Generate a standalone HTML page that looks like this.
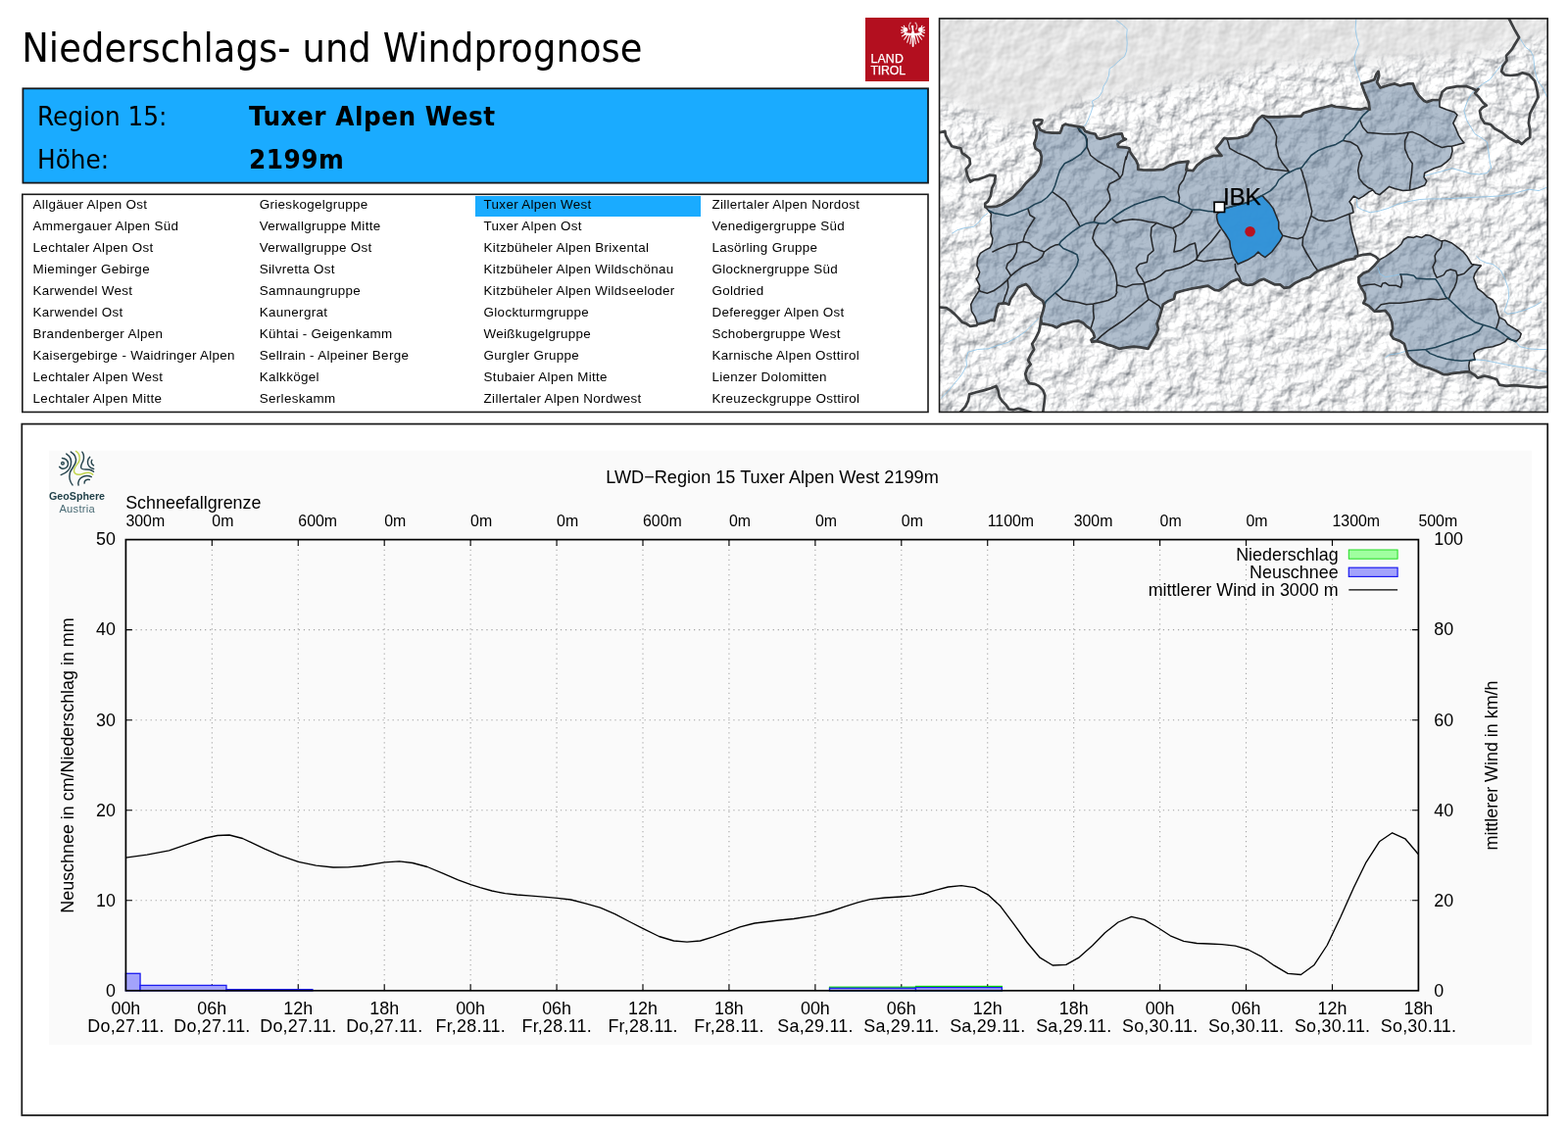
<!DOCTYPE html>
<html lang="de">
<head>
<meta charset="utf-8">
<title>Niederschlags- und Windprognose – Region 15 Tuxer Alpen West</title>
<style>
html,body{margin:0;padding:0;background:#fff;}
body{width:1600px;height:1153px;position:relative;overflow:hidden;font-family:"Liberation Sans","DejaVu Sans",sans-serif;color:#000;}
.abs{position:absolute;white-space:nowrap;}
#title{left:22.2px;top:24.6px;font-family:"DejaVu Sans Condensed","Liberation Sans",sans-serif;font-size:41px;line-height:48px;letter-spacing:0.07px;}
#logo{left:883px;top:18px;width:65px;height:64.7px;background:#b30f1f;}
#logo .t{position:absolute;left:5.4px;color:#fff;font-size:12.3px;line-height:12px;letter-spacing:0.2px;-webkit-text-stroke:0.25px #fff;}
.rl{font-family:"DejaVu Sans Condensed","Liberation Sans",sans-serif;font-size:26.7px;line-height:32px;transform:scaleX(1.032);transform-origin:0 0;}
.rb{font-weight:bold;letter-spacing:0.5px;}
#hl{left:485px;top:200px;width:230px;height:21px;background:#1aabff;}
.li{font-size:13.4px;letter-spacing:0.32px;line-height:22px;height:22px;}
svg{position:absolute;left:0;top:0;}
svg text{font-family:"Liberation Sans","DejaVu Sans",sans-serif;}
</style>
</head>
<body>
<div id="title" class="abs">Niederschlags- und Windprognose</div>
<div id="logo" class="abs"><div class="t" style="top:35.7px">LAND</div><div class="t" style="top:47.6px;letter-spacing:-0.15px">TIROL</div><svg width="65" height="65" viewBox="0 0 65 65" style="left:0;top:0"><g transform="translate(48.6 16.5) scale(1 1.07)" fill="#fff" stroke="#fff" stroke-linecap="round">
<ellipse cx="0" cy="0.8" rx="1.8" ry="3.3" stroke="none"/>
<path d="M-8 -0.2Q0 1.6 8 -0.2" fill="none" stroke-width="2.3"/>
<circle cx="-7.5" cy="-3.8" r="2.2" stroke="none"/><circle cx="7.5" cy="-3.8" r="2.2" stroke="none"/>
<path d="M-7.5-4l-1.8-3.6M-7.5-4l-4-2.4M-7.5-3.6l-4.5 0.2M-7.5-2.5l-4.3 1.6M-7 0l-4.2 2.3M-5.5 0.8l-3.4 4.6M-3.6 1.4l-2.3 6.8M-1.6 2.4l-1.2 7.2M7.5-4l1.8-3.6M7.5-4l4-2.4M7.5-3.6l4.5 0.2M7.5-2.5l4.3 1.6M7 0l4.2 2.3M5.5 0.8l3.4 4.6M3.6 1.4l2.3 6.8M1.6 2.4l1.2 7.2" fill="none" stroke-width="1.05"/>
<path d="M0 3v8.6" fill="none" stroke-width="1.8"/>
<path d="M0-2L-0.4-6" fill="none" stroke-width="1.7"/>
<circle cx="-0.5" cy="-7" r="1.25" stroke="none"/>
<path d="M-3.2-4.4Q-5.4-8.6-1.6-11.2M3.2-4.4Q5.4-8.6 1.6-11.2" fill="none" stroke-width="1.3" stroke-dasharray="1.4 1.2" opacity="0.7"/>
</g></svg>
</div>
<svg width="1600" height="1153" viewBox="0 0 1600 1153"><rect x="23.4" y="90.3" width="923.6" height="96.3" fill="#1aabff" stroke="#15181c" stroke-width="1.8"/><rect x="22.8" y="198.3" width="924.2" height="222.15" fill="#fff" stroke="#1a1a1a" stroke-width="1.6"/><rect x="22.3" y="432.6" width="1556.9" height="705.4" fill="#fff" stroke="#1a1a1a" stroke-width="1.75"/></svg>
<div class="abs rl" style="left:37.5px;top:103.3px">Region 15:</div>
<div class="abs rl rb" style="left:253.5px;top:103.3px">Tuxer Alpen West</div>
<div class="abs rl" style="left:37.5px;top:146.5px">Höhe:</div>
<div class="abs rl rb" style="left:253.5px;top:146.5px">2199m</div>
<div id="hl" class="abs"></div>
<div class="abs li" style="left:33.6px;top:197.8px">Allgäuer Alpen Ost</div>
<div class="abs li" style="left:33.6px;top:219.8px">Ammergauer Alpen Süd</div>
<div class="abs li" style="left:33.6px;top:241.8px">Lechtaler Alpen Ost</div>
<div class="abs li" style="left:33.6px;top:263.8px">Mieminger Gebirge</div>
<div class="abs li" style="left:33.6px;top:285.8px">Karwendel West</div>
<div class="abs li" style="left:33.6px;top:307.8px">Karwendel Ost</div>
<div class="abs li" style="left:33.6px;top:329.8px">Brandenberger Alpen</div>
<div class="abs li" style="left:33.6px;top:351.8px">Kaisergebirge - Waidringer Alpen</div>
<div class="abs li" style="left:33.6px;top:373.8px">Lechtaler Alpen West</div>
<div class="abs li" style="left:33.6px;top:395.8px">Lechtaler Alpen Mitte</div>
<div class="abs li" style="left:264.8px;top:197.8px">Grieskogelgruppe</div>
<div class="abs li" style="left:264.8px;top:219.8px">Verwallgruppe Mitte</div>
<div class="abs li" style="left:264.8px;top:241.8px">Verwallgruppe Ost</div>
<div class="abs li" style="left:264.8px;top:263.8px">Silvretta Ost</div>
<div class="abs li" style="left:264.8px;top:285.8px">Samnaungruppe</div>
<div class="abs li" style="left:264.8px;top:307.8px">Kaunergrat</div>
<div class="abs li" style="left:264.8px;top:329.8px">Kühtai - Geigenkamm</div>
<div class="abs li" style="left:264.8px;top:351.8px">Sellrain - Alpeiner Berge</div>
<div class="abs li" style="left:264.8px;top:373.8px">Kalkkögel</div>
<div class="abs li" style="left:264.8px;top:395.8px">Serleskamm</div>
<div class="abs li" style="left:493.6px;top:197.8px">Tuxer Alpen West</div>
<div class="abs li" style="left:493.6px;top:219.8px">Tuxer Alpen Ost</div>
<div class="abs li" style="left:493.6px;top:241.8px">Kitzbüheler Alpen Brixental</div>
<div class="abs li" style="left:493.6px;top:263.8px">Kitzbüheler Alpen Wildschönau</div>
<div class="abs li" style="left:493.6px;top:285.8px">Kitzbüheler Alpen Wildseeloder</div>
<div class="abs li" style="left:493.6px;top:307.8px">Glockturmgruppe</div>
<div class="abs li" style="left:493.6px;top:329.8px">Weißkugelgruppe</div>
<div class="abs li" style="left:493.6px;top:351.8px">Gurgler Gruppe</div>
<div class="abs li" style="left:493.6px;top:373.8px">Stubaier Alpen Mitte</div>
<div class="abs li" style="left:493.6px;top:395.8px">Zillertaler Alpen Nordwest</div>
<div class="abs li" style="left:726.4px;top:197.8px">Zillertaler Alpen Nordost</div>
<div class="abs li" style="left:726.4px;top:219.8px">Venedigergruppe Süd</div>
<div class="abs li" style="left:726.4px;top:241.8px">Lasörling Gruppe</div>
<div class="abs li" style="left:726.4px;top:263.8px">Glocknergruppe Süd</div>
<div class="abs li" style="left:726.4px;top:285.8px">Goldried</div>
<div class="abs li" style="left:726.4px;top:307.8px">Deferegger Alpen Ost</div>
<div class="abs li" style="left:726.4px;top:329.8px">Schobergruppe West</div>
<div class="abs li" style="left:726.4px;top:351.8px">Karnische Alpen Osttirol</div>
<div class="abs li" style="left:726.4px;top:373.8px">Lienzer Dolomitten</div>
<div class="abs li" style="left:726.4px;top:395.8px">Kreuzeckgruppe Osttirol</div>
<svg width="1600" height="1153" viewBox="0 0 1600 1153">
<defs>
<clipPath id="mclip"><rect x="958.6" y="18.9" width="620.6" height="401.5"/></clipPath>
<filter id="relA" x="0" y="0" width="100%" height="100%" color-interpolation-filters="sRGB"><feTurbulence type="fractalNoise" baseFrequency="0.06" numOctaves="5" seed="7"/><feDiffuseLighting surfaceScale="3.8" diffuseConstant="1.05" lighting-color="#fff"><feDistantLight azimuth="225" elevation="62"/></feDiffuseLighting><feComponentTransfer><feFuncR type="linear" slope="0.86" intercept="0.14"/><feFuncG type="linear" slope="0.83" intercept="0.17"/><feFuncB type="linear" slope="0.79" intercept="0.21"/></feComponentTransfer></filter>
<filter id="relB" x="0" y="0" width="100%" height="100%" color-interpolation-filters="sRGB"><feTurbulence type="fractalNoise" baseFrequency="0.06" numOctaves="3" seed="11"/><feDiffuseLighting surfaceScale="0.55" diffuseConstant="1.2" lighting-color="#fff"><feDistantLight azimuth="225" elevation="48"/></feDiffuseLighting></filter>
<filter id="blur6"><feGaussianBlur stdDeviation="7"/></filter>
<mask id="alp" maskUnits="userSpaceOnUse" x="950" y="10" width="640" height="420"><rect x="950" y="10" width="640" height="420" fill="#000"/><path filter="url(#blur6)" fill="#fff" d="M940 95L1000 112L1040 128L1075 112L1110 100L1150 96L1200 88L1245 78L1290 66L1340 62L1400 62L1440 58L1490 58L1530 50L1560 40L1600 30V440H940Z"/></mask>
</defs>
<g clip-path="url(#mclip)">
<rect x="958" y="18" width="622" height="403" fill="#e3e3e3"/>
<rect x="958" y="18" width="622" height="403" filter="url(#relB)"/>
<g mask="url(#alp)"><rect x="958" y="18" width="622" height="403" filter="url(#relA)"/></g>
<path d="M1005.3 211.2L1011.5 211.2L1017.0 210.5L1022.6 208.4L1028.2 205.0L1033.7 201.5L1037.9 197.3L1042.0 193.2L1046.2 187.6L1050.3 183.5L1055.2 179.3L1059.4 173.8L1062.1 166.8L1062.8 159.9L1061.2 154.3L1056.6 151.3L1055.2 146.4L1057.3 140.9L1058.0 133.9L1056.6 129.1L1059.4 128.4L1061.5 132.6L1067.0 135.0L1073.9 135.6L1081.6 135.6L1083.0 132.6L1084.3 128.4L1087.1 126.6L1091.3 127.7L1099.6 129.1L1105.2 130.1L1107.2 133.9L1112.1 135.6L1117.6 136.7L1119.7 140.9L1122.5 141.6L1130.8 139.5L1137.8 137.0L1144.7 136.4L1146.1 140.9L1148.9 142.0L1144.0 144.3L1140.5 147.1L1141.2 149.9L1147.5 150.3L1152.3 151.3L1153.0 154.8L1155.8 158.9L1159.3 163.8L1161.3 168.6L1161.3 172.8L1166.9 173.5L1178.0 173.5L1186.8 172.8L1193.8 168.6L1202.1 165.8L1212.5 164.7L1211.1 168.6L1210.4 173.5L1217.3 174.2L1221.5 168.6L1228.4 163.1L1238.2 158.9L1246.5 158.9L1243.7 155.4L1240.9 151.3L1245.1 146.4L1249.2 140.9L1252.7 141.6L1263.1 140.9L1272.8 138.1L1277.0 133.9L1279.8 127.0L1283.9 121.5L1288.1 118.0L1293.7 119.4L1304.8 119.4L1317.2 118.7L1327.6 118.7L1330.4 115.2L1339.4 112.4L1350.5 109.7L1358.9 107.6L1363.0 109.0L1371.3 109.7L1379.7 111.0L1388.0 111.7L1393.3 110.3L1397.5 111.7L1396.8 104.8L1392.7 95.1L1389.2 85.4L1396.8 83.3L1402.4 81.2L1404.4 75.7L1406.5 72.9L1407.2 77.0L1405.1 84.0L1408.6 89.5L1417.6 86.8L1423.2 85.4L1428.7 87.5L1437.0 85.4L1441.9 85.4L1444.0 91.6L1448.2 97.9L1453.0 102.7L1455.8 104.1L1462.0 102.0L1469.0 102.0L1469.0 109.0L1475.9 111.7L1484.2 114.5L1487.0 117.3L1482.8 125.6L1485.6 131.2L1488.4 138.1L1491.2 142.3L1493.9 145.7L1487.0 147.8L1481.5 149.2L1482.1 154.3L1480.1 161.3L1475.9 165.4L1470.3 169.6L1463.4 171.7L1457.9 174.4L1453.7 176.5L1453.0 180.7L1455.8 184.8L1453.7 189.0L1446.8 191.8L1439.1 193.9L1431.5 194.6L1423.2 192.5L1417.6 190.4L1413.5 193.9L1407.9 198.7L1403.8 197.3L1401.0 193.9L1396.8 195.9L1391.3 200.1L1386.4 202.9L1381.5 200.1L1377.0 205.7L1379.7 209.8L1381.1 216.8L1377.0 218.2L1377.7 226.5L1379.7 236.2L1382.5 245.9L1385.3 255.6L1385.7 261.2L1382.5 263.9L1374.1 265.3L1367.2 268.1L1360.2 270.9L1351.9 273.6L1345.0 276.4L1340.8 279.2L1336.7 282.7L1329.7 284.8L1321.4 288.9L1315.8 293.1L1310.3 293.8L1306.1 290.3L1300.6 290.3L1295.0 287.5L1289.5 284.8L1285.3 286.1L1278.4 290.3L1272.8 291.0L1267.3 288.9L1263.1 284.8L1256.2 287.5L1249.2 293.1L1243.7 296.5L1239.5 295.9L1232.6 291.7L1224.3 293.1L1216.0 294.5L1207.6 296.5L1200.0 298.6L1199.3 299.6L1197.9 305.1L1192.4 307.2L1186.8 310.7L1185.4 316.2L1183.3 323.2L1180.6 330.1L1182.0 335.7L1179.9 341.2L1175.7 348.1L1171.5 355.8L1164.1 354.4L1157.2 353.7L1150.2 354.4L1141.9 355.8L1135.0 353.0L1129.4 351.6L1122.5 348.8L1118.3 348.1L1114.2 348.8L1113.5 346.8L1117.0 344.0L1115.6 339.8L1112.8 335.7L1108.6 332.9L1105.2 329.4L1100.3 327.3L1094.8 328.0L1087.8 330.1L1083.7 330.8L1078.1 334.3L1073.9 332.2L1067.0 330.8L1062.8 330.1L1062.1 324.6L1064.2 317.6L1065.6 312.1L1064.2 307.2L1060.1 304.4L1055.9 301.7L1053.1 298.2L1050.3 293.3L1046.9 289.9L1043.4 291.3L1038.6 293.3L1035.8 298.2L1033.0 302.4L1030.9 305.8L1029.5 310.7L1025.4 309.3L1019.1 310.0L1017.0 314.9L1015.7 321.8L1014.3 327.3L1011.5 326.6L1004.6 329.4L997.6 330.8L994.9 323.2L991.4 317.6L990.7 310.7L993.5 305.1L999.0 296.8L999.7 291.3L996.2 284.3L997.6 283.4L999.7 277.8L996.9 270.9L997.6 263.9L1000.4 258.4L1004.6 255.6L1010.1 252.8L1012.2 248.7L1012.9 243.1L1010.8 237.6L1011.5 230.6L1010.8 223.7L1011.5 218.2L1008.0 214.0ZM1407.2 265.3L1413.5 261.9L1420.4 257.0L1426.0 252.8L1430.1 248.7L1432.2 244.5L1437.0 241.7L1442.6 242.4L1445.4 241.0L1450.9 242.4L1455.1 239.7L1459.2 240.3L1464.8 243.1L1470.3 245.9L1474.5 245.2L1481.5 248.0L1487.0 252.1L1492.5 256.3L1496.7 261.2L1499.5 266.0L1501.6 269.5L1506.4 270.2L1511.3 270.9L1507.8 275.0L1505.0 279.2L1503.7 283.4L1505.7 288.9L1507.8 294.5L1513.4 298.6L1517.5 302.8L1523.1 306.0L1526.5 310.7L1527.9 317.6L1530.0 323.9L1535.6 326.6L1538.3 330.8L1543.9 334.3L1549.4 337.7L1552.2 340.5L1550.8 344.7L1547.4 348.1L1542.5 346.8L1538.3 345.4L1535.6 348.8L1530.0 351.6L1523.1 353.7L1514.8 355.1L1507.8 357.2L1503.7 360.6L1505.0 366.9L1499.5 368.3L1498.8 373.1L1499.5 379.4L1495.3 379.4L1489.8 380.1L1482.8 380.8L1477.3 382.1L1473.1 382.1L1466.2 378.7L1459.2 375.9L1453.7 374.5L1446.8 371.7L1441.2 367.6L1437.0 363.4L1435.0 357.9L1432.9 350.9L1428.7 348.1L1421.8 345.4L1419.0 341.2L1421.1 335.7L1420.4 328.7L1417.6 321.8L1413.5 316.9L1407.9 317.6L1402.4 317.6L1396.8 312.1L1391.3 309.3L1393.3 305.1L1392.7 299.6L1389.2 294.0L1386.4 288.5L1386.4 282.9L1391.3 278.8L1396.8 276.4L1402.4 270.9L1407.2 265.3Z" fill="#68839f" fill-opacity="0.52"/>
<path d="M1138.5 20.2L1146.1 25.7L1150.2 29.9L1149.6 36.8L1150.2 43.8L1149.6 52.1L1147.5 57.6L1141.9 61.8L1136.4 67.3L1132.2 70.1L1131.5 77.0L1129.4 82.6L1126.0 88.2L1124.6 93.7L1121.1 99.2L1114.2 103.4L1115.6 107.6L1112.8 115.9L1110.0 122.8L1107.9 127.0L1104.5 129.8M1383.8 18.8L1383.1 29.9L1384.5 38.2L1386.6 45.1L1383.8 52.1L1381.8 59.0L1382.5 65.9L1385.2 74.3L1388.0 82.6L1389.2 84.7M1537.0 61.8L1530.0 68.7L1524.5 75.7L1520.3 81.2L1513.4 85.4L1506.4 90.9L1500.9 96.5L1496.7 104.8L1493.9 113.1L1496.7 122.8L1500.9 129.8L1505.0 136.7L1512.0 140.9L1517.5 145.0L1518.9 154.8L1520.3 165.8L1521.7 171.4L1521.7 171.0L1517.5 176.5L1509.2 177.9L1500.9 177.2L1491.2 174.4L1481.5 171.7L1470.3 175.1L1459.2 177.9L1451.6 180.0M1550.8 38.9L1556.4 47.9L1561.9 52.1L1564.7 57.6L1566.1 71.5L1568.9 82.6L1574.4 89.5L1578.6 99.2M1384.3 201.5L1385.0 211.2L1389.9 214.0L1398.2 216.8L1406.5 215.4L1416.2 212.6L1426.0 208.4L1437.0 205.7L1448.2 203.6L1459.2 202.9L1473.1 202.9L1487.0 202.2L1500.9 201.5L1514.8 200.8L1528.6 200.1L1542.5 198.0L1552.2 195.3L1560.5 193.2L1570.2 194.6L1578.6 191.1M1405.8 272.3L1407.9 279.2L1413.5 282.7L1421.8 281.3L1428.7 279.9M1413.5 364.8L1417.6 362.0L1427.3 360.6L1435.7 357.9M1546.7 348.8L1550.8 353.7L1560.5 355.8L1570.2 356.5L1578.6 356.5M1505.0 366.9L1514.8 367.6L1528.6 370.4L1542.5 373.1L1556.4 375.2L1570.2 378.0L1578.6 379.4M1506.4 261.2L1510.6 265.3L1516.1 268.1L1523.1 269.5L1528.6 273.6L1531.4 276.0L1535.6 284.3L1539.0 294.0L1539.7 303.8L1537.0 312.1L1534.9 317.6L1538.3 320.4L1546.7 319.0L1556.4 316.2L1566.1 312.1L1573.0 307.9M971.3 238.3L976.8 234.8L983.8 232.7L993.5 231.3L999.0 226.5L1003.2 220.9L1008.0 217.5M960.2 406.4L967.1 399.5L974.0 391.2L981.0 382.8L986.5 373.1L985.8 366.2L987.9 359.2L997.6 356.5L1008.7 355.8L1018.4 352.3L1028.2 349.5L1037.9 344.0L1046.2 338.4L1053.1 331.5L1060.1 324.6" fill="none" stroke="#8cc4ea" stroke-width="0.8" stroke-linejoin="round"/>
<path d="M1241.6 218.8L1243.7 216.8L1250.6 212.6L1260.3 209.8L1271.5 207.1L1281.2 202.9L1288.1 199.4L1290.9 202.9L1295.0 207.1L1299.2 212.6L1302.0 219.5L1304.8 226.5L1304.8 233.4L1308.9 240.3L1306.1 245.9L1302.0 251.4L1297.8 257.0L1290.9 262.6L1286.7 259.8L1283.9 257.0L1279.8 261.2L1272.8 265.3L1263.1 269.5L1260.3 265.3L1257.6 259.8L1255.5 252.8L1254.8 245.9L1250.6 239.0L1246.5 233.4L1243.0 227.9L1241.6 222.3Z" fill="#2f92d8" fill-opacity="0.96"/>
<path d="M1005.3 211.2L1011.5 211.2L1017.0 210.5L1022.6 208.4L1028.2 205.0L1033.7 201.5L1037.9 197.3L1042.0 193.2L1046.2 187.6L1050.3 183.5L1055.2 179.3L1059.4 173.8L1062.1 166.8L1062.8 159.9L1061.2 154.3L1056.6 151.3L1055.2 146.4L1057.3 140.9L1058.0 133.9L1056.6 129.1L1059.4 128.4L1061.5 132.6L1067.0 135.0L1073.9 135.6L1081.6 135.6L1083.0 132.6L1084.3 128.4L1087.1 126.6L1091.3 127.7L1099.6 129.1L1105.2 130.1L1107.2 133.9L1112.1 135.6L1117.6 136.7L1119.7 140.9L1122.5 141.6L1130.8 139.5L1137.8 137.0L1144.7 136.4L1146.1 140.9L1148.9 142.0L1144.0 144.3L1140.5 147.1L1141.2 149.9L1147.5 150.3L1152.3 151.3L1153.0 154.8L1155.8 158.9L1159.3 163.8L1161.3 168.6L1161.3 172.8L1166.9 173.5L1178.0 173.5L1186.8 172.8L1193.8 168.6L1202.1 165.8L1212.5 164.7L1211.1 168.6L1210.4 173.5L1217.3 174.2L1221.5 168.6L1228.4 163.1L1238.2 158.9L1246.5 158.9L1243.7 155.4L1240.9 151.3L1245.1 146.4L1249.2 140.9L1252.7 141.6L1263.1 140.9L1272.8 138.1L1277.0 133.9L1279.8 127.0L1283.9 121.5L1288.1 118.0L1293.7 119.4L1304.8 119.4L1317.2 118.7L1327.6 118.7L1330.4 115.2L1339.4 112.4L1350.5 109.7L1358.9 107.6L1363.0 109.0L1371.3 109.7L1379.7 111.0L1388.0 111.7L1393.3 110.3L1397.5 111.7L1396.8 104.8L1392.7 95.1L1389.2 85.4L1396.8 83.3L1402.4 81.2L1404.4 75.7L1406.5 72.9L1407.2 77.0L1405.1 84.0L1408.6 89.5L1417.6 86.8L1423.2 85.4L1428.7 87.5L1437.0 85.4L1441.9 85.4L1444.0 91.6L1448.2 97.9L1453.0 102.7L1455.8 104.1L1462.0 102.0L1469.0 102.0L1469.0 109.0L1475.9 111.7L1484.2 114.5L1487.0 117.3L1482.8 125.6L1485.6 131.2L1488.4 138.1L1491.2 142.3L1493.9 145.7L1487.0 147.8L1481.5 149.2L1482.1 154.3L1480.1 161.3L1475.9 165.4L1470.3 169.6L1463.4 171.7L1457.9 174.4L1453.7 176.5L1453.0 180.7L1455.8 184.8L1453.7 189.0L1446.8 191.8L1439.1 193.9L1431.5 194.6L1423.2 192.5L1417.6 190.4L1413.5 193.9L1407.9 198.7L1403.8 197.3L1401.0 193.9L1396.8 195.9L1391.3 200.1L1386.4 202.9L1381.5 200.1L1377.0 205.7L1379.7 209.8L1381.1 216.8L1377.0 218.2L1377.7 226.5L1379.7 236.2L1382.5 245.9L1385.3 255.6L1385.7 261.2L1382.5 263.9L1374.1 265.3L1367.2 268.1L1360.2 270.9L1351.9 273.6L1345.0 276.4L1340.8 279.2L1336.7 282.7L1329.7 284.8L1321.4 288.9L1315.8 293.1L1310.3 293.8L1306.1 290.3L1300.6 290.3L1295.0 287.5L1289.5 284.8L1285.3 286.1L1278.4 290.3L1272.8 291.0L1267.3 288.9L1263.1 284.8L1256.2 287.5L1249.2 293.1L1243.7 296.5L1239.5 295.9L1232.6 291.7L1224.3 293.1L1216.0 294.5L1207.6 296.5L1200.0 298.6L1199.3 299.6L1197.9 305.1L1192.4 307.2L1186.8 310.7L1185.4 316.2L1183.3 323.2L1180.6 330.1L1182.0 335.7L1179.9 341.2L1175.7 348.1L1171.5 355.8L1164.1 354.4L1157.2 353.7L1150.2 354.4L1141.9 355.8L1135.0 353.0L1129.4 351.6L1122.5 348.8L1118.3 348.1L1114.2 348.8L1113.5 346.8L1117.0 344.0L1115.6 339.8L1112.8 335.7L1108.6 332.9L1105.2 329.4L1100.3 327.3L1094.8 328.0L1087.8 330.1L1083.7 330.8L1078.1 334.3L1073.9 332.2L1067.0 330.8L1062.8 330.1L1062.1 324.6L1064.2 317.6L1065.6 312.1L1064.2 307.2L1060.1 304.4L1055.9 301.7L1053.1 298.2L1050.3 293.3L1046.9 289.9L1043.4 291.3L1038.6 293.3L1035.8 298.2L1033.0 302.4L1030.9 305.8L1029.5 310.7L1025.4 309.3L1019.1 310.0L1017.0 314.9L1015.7 321.8L1014.3 327.3L1011.5 326.6L1004.6 329.4L997.6 330.8L994.9 323.2L991.4 317.6L990.7 310.7L993.5 305.1L999.0 296.8L999.7 291.3L996.2 284.3L997.6 283.4L999.7 277.8L996.9 270.9L997.6 263.9L1000.4 258.4L1004.6 255.6L1010.1 252.8L1012.2 248.7L1012.9 243.1L1010.8 237.6L1011.5 230.6L1010.8 223.7L1011.5 218.2L1008.0 214.0ZM1407.2 265.3L1413.5 261.9L1420.4 257.0L1426.0 252.8L1430.1 248.7L1432.2 244.5L1437.0 241.7L1442.6 242.4L1445.4 241.0L1450.9 242.4L1455.1 239.7L1459.2 240.3L1464.8 243.1L1470.3 245.9L1474.5 245.2L1481.5 248.0L1487.0 252.1L1492.5 256.3L1496.7 261.2L1499.5 266.0L1501.6 269.5L1506.4 270.2L1511.3 270.9L1507.8 275.0L1505.0 279.2L1503.7 283.4L1505.7 288.9L1507.8 294.5L1513.4 298.6L1517.5 302.8L1523.1 306.0L1526.5 310.7L1527.9 317.6L1530.0 323.9L1535.6 326.6L1538.3 330.8L1543.9 334.3L1549.4 337.7L1552.2 340.5L1550.8 344.7L1547.4 348.1L1542.5 346.8L1538.3 345.4L1535.6 348.8L1530.0 351.6L1523.1 353.7L1514.8 355.1L1507.8 357.2L1503.7 360.6L1505.0 366.9L1499.5 368.3L1498.8 373.1L1499.5 379.4L1495.3 379.4L1489.8 380.1L1482.8 380.8L1477.3 382.1L1473.1 382.1L1466.2 378.7L1459.2 375.9L1453.7 374.5L1446.8 371.7L1441.2 367.6L1437.0 363.4L1435.0 357.9L1432.9 350.9L1428.7 348.1L1421.8 345.4L1419.0 341.2L1421.1 335.7L1420.4 328.7L1417.6 321.8L1413.5 316.9L1407.9 317.6L1402.4 317.6L1396.8 312.1L1391.3 309.3L1393.3 305.1L1392.7 299.6L1389.2 294.0L1386.4 288.5L1386.4 282.9L1391.3 278.8L1396.8 276.4L1402.4 270.9L1407.2 265.3ZM1241.6 218.8L1243.7 216.8L1250.6 212.6L1260.3 209.8L1271.5 207.1L1281.2 202.9L1288.1 199.4L1290.9 202.9L1295.0 207.1L1299.2 212.6L1302.0 219.5L1304.8 226.5L1304.8 233.4L1308.9 240.3L1306.1 245.9L1302.0 251.4L1297.8 257.0L1290.9 262.6L1286.7 259.8L1283.9 257.0L1279.8 261.2L1272.8 265.3L1263.1 269.5L1260.3 265.3L1257.6 259.8L1255.5 252.8L1254.8 245.9L1250.6 239.0L1246.5 233.4L1243.0 227.9L1241.6 222.3ZM1099.6 129.8L1101.7 133.9L1107.2 138.1L1109.3 142.3L1109.3 146.4L1109.3 150.2L1112.8 158.5L1119.7 164.0L1128.0 168.9L1135.0 172.4L1140.5 177.2L1142.6 181.4M1151.2 154.8L1149.1 162.5L1148.9 159.9L1146.8 169.6L1145.4 177.9L1142.6 182.1L1136.4 185.5L1132.2 187.6L1130.1 193.2L1132.2 198.7L1132.9 204.3L1128.0 211.2L1122.5 216.8L1117.6 222.3L1116.3 226.5M1073.9 195.9L1080.9 200.8L1087.1 205.7L1091.3 212.6L1094.8 219.5L1098.9 225.1L1101.7 230.6M1049.0 213.3L1051.0 219.5L1055.9 222.3L1052.4 227.9L1049.0 233.4L1045.5 240.3L1044.1 245.9M1012.9 257.0L1018.4 254.2L1028.2 250.1L1036.5 248.7L1044.1 246.6L1050.3 248.0L1054.5 252.1L1061.5 255.6L1065.6 257.0L1071.2 252.8L1076.7 250.1L1080.9 249.4M1037.9 248.7L1037.2 257.0L1033.7 263.9L1028.2 268.8L1026.8 273.6L1029.5 277.8L1031.6 281.3M1065.6 257.0L1063.5 261.9L1058.7 266.0L1051.7 268.8L1043.4 272.3L1036.5 277.1L1031.6 281.3L1027.5 286.1L1021.2 291.7L1014.3 296.5L1007.3 299.3L1000.4 297.2L998.3 294.5M1028.2 286.1L1028.8 293.1L1026.8 300.0L1026.1 301.0L1024.0 307.9L1022.6 310.0M1121.1 227.9L1117.0 234.8L1114.9 243.1L1118.3 250.1L1125.3 257.0L1130.8 263.9L1135.0 270.9L1138.5 279.2L1139.8 288.9L1139.2 297.2L1139.8 298.2L1137.8 302.4L1130.8 306.5L1122.5 308.6L1115.6 310.0L1108.6 310.7L1100.3 308.6L1092.0 307.2L1085.0 305.8L1080.9 302.4L1076.7 298.9M1135.0 223.7L1139.2 227.2L1146.1 225.1L1155.8 223.7L1164.1 224.4L1172.5 226.5L1172.9 226.5L1179.9 227.2L1186.8 229.9L1196.5 232.7L1206.2 227.9L1213.2 220.9L1216.6 214.7M1179.9 227.9L1175.0 232.0L1174.3 240.3L1175.7 248.7L1177.1 255.6L1171.5 260.5L1170.4 267.4L1162.7 269.5L1159.3 273.6L1161.3 279.2L1165.5 284.8L1167.6 288.9L1167.6 289.2L1169.7 298.2L1171.8 305.1L1177.1 308.6L1182.7 312.1L1185.4 316.2M1140.5 291.0L1148.9 293.1L1155.8 290.3L1167.6 289.6L1168.8 288.2L1178.5 284.8L1184.0 281.3L1189.6 276.4L1196.5 275.0L1204.8 273.0L1213.2 269.5L1220.8 264.6L1224.3 258.4L1229.8 252.8L1235.4 247.3L1240.9 240.3L1245.1 234.8M1115.6 310.0L1115.6 317.6L1116.3 324.6L1114.2 331.5L1112.8 335.7M1171.8 305.8L1164.1 312.1L1155.8 319.0L1147.5 325.9L1139.2 331.5L1130.8 337.1L1123.9 342.6L1118.3 348.1M1252.0 141.6L1253.4 146.4L1254.8 151.3L1263.1 156.1L1272.8 160.3L1282.5 165.2L1285.3 168.2L1290.9 171.7L1299.2 173.1L1307.5 173.8L1313.1 174.4L1315.8 175.8M1288.1 118.7L1295.7 125.6L1299.9 132.6L1302.7 139.5L1302.0 147.8L1303.4 152.9L1304.8 159.9L1308.9 166.8L1314.5 173.8L1315.8 175.8M1370.7 143.6L1378.3 145.0L1385.2 149.2L1388.0 154.8L1389.9 158.9L1387.1 165.8L1385.7 174.2L1387.1 182.1L1391.3 187.6L1396.8 191.8L1400.3 193.2M1327.0 171.4L1329.0 176.0L1329.7 179.3L1332.5 187.6L1334.6 197.3L1336.7 207.1L1338.7 215.4L1338.0 219.5L1334.6 229.2L1331.8 237.6L1329.7 241.7L1324.2 243.8L1317.2 242.4L1308.9 240.3M1211.8 171.7L1207.6 183.5L1203.5 189.0L1202.1 195.9L1203.5 201.5L1202.8 207.1M1197.2 233.4L1200.0 240.3L1199.3 248.7L1197.9 257.0L1204.8 255.6L1213.2 250.1L1219.4 248.0L1220.8 255.6L1221.5 261.2L1220.8 264.6M1220.8 265.3L1228.4 266.7L1238.2 265.3L1247.9 264.6L1256.2 263.2L1259.0 262.6M1260.3 269.5L1261.0 276.4L1264.5 282.0L1266.6 287.5M1338.7 220.9L1345.0 224.4L1353.3 225.8L1361.6 224.4L1370.0 220.9L1376.9 218.2M1329.7 241.7L1329.0 250.1L1332.5 257.0L1336.7 263.9L1340.8 270.9L1344.3 275.7M1387.8 122.8L1390.6 129.8L1395.4 135.3L1403.8 136.0L1412.1 136.7L1423.2 136.7L1431.5 136.0L1441.2 134.6L1449.5 138.1L1457.9 143.6L1464.8 147.8L1471.7 150.6L1477.3 149.2L1481.5 149.2M1437.0 136.0L1433.6 143.6L1433.6 152.0L1437.0 160.3L1440.5 165.8L1441.2 166.8L1440.5 176.5L1439.1 186.2L1438.4 193.9M1471.7 246.6L1470.3 252.8L1466.2 257.0L1464.1 261.2L1464.8 266.7L1462.0 272.3L1463.4 277.8L1466.2 283.4L1473.1 280.6L1475.9 276.4L1480.1 275.0L1485.6 276.4L1487.0 281.3L1493.9 279.2L1499.5 273.6L1503.7 270.2M1487.0 281.3L1486.3 287.5L1484.2 293.1L1480.1 300.0L1478.7 304.2M1389.2 292.0L1395.4 290.6L1402.4 289.9L1409.3 292.6L1410.7 289.2L1413.5 288.5L1417.6 291.3L1424.6 291.3L1429.4 293.3L1430.8 287.1L1429.4 280.2M1403.8 316.2L1409.3 310.7L1417.6 309.3L1428.7 309.3L1438.4 307.9L1448.2 306.5L1459.2 305.1L1467.6 305.8L1477.3 304.4M1526.5 335.7L1528.6 330.1L1530.0 323.9" fill="none" stroke="#26282b" stroke-width="1.55" stroke-linejoin="round" stroke-linecap="round"/>
<path d="M1099.6 129.8L1103.1 133.9L1107.9 139.5L1109.0 146.0L1108.6 150.2L1103.1 157.1L1094.8 162.7L1086.4 166.8L1081.6 173.8L1078.8 182.1L1076.7 189.0L1073.9 195.3L1068.4 201.5L1062.8 205.7L1055.9 208.4L1049.0 212.6L1042.0 215.4L1035.1 218.2L1028.2 220.2L1021.2 218.8L1014.3 217.5L1008.7 214.7M1065.6 312.1L1067.0 307.9L1071.2 303.8L1076.7 298.9L1080.9 295.4L1086.4 289.9L1092.0 282.9L1094.8 277.8L1098.9 270.9L1100.3 265.3L1098.9 259.8L1093.4 257.0L1085.0 253.5L1080.9 249.4L1082.3 246.6L1087.8 241.7L1094.8 236.2L1101.7 231.3L1108.6 227.9L1116.3 226.5L1121.1 227.9L1128.0 227.9L1133.6 223.7L1139.2 219.5L1147.5 214.0L1157.2 209.1L1166.9 205.7L1174.3 203.6L1184.0 200.8L1188.2 200.8L1193.8 204.3L1202.8 207.1L1211.8 211.9L1216.0 214.0L1224.3 214.0L1232.6 215.4L1239.5 216.1L1250.6 212.6L1260.3 209.8L1271.5 207.1L1281.2 202.9L1288.1 199.4L1296.4 194.6L1302.0 189.0L1304.8 183.5L1311.7 177.9L1315.8 175.8L1322.8 172.4L1328.3 171.0L1332.5 165.4L1338.0 158.5L1345.0 153.6L1353.3 150.2L1363.0 147.4L1370.7 143.0L1373.4 138.1L1375.5 136.7L1382.5 129.8L1388.0 121.5L1391.3 117.3L1397.5 111.7L1396.8 104.8L1392.7 95.1L1389.2 85.4M1428.7 279.9L1435.7 279.9L1442.6 281.3L1445.4 284.1L1455.1 284.8L1464.8 284.8L1467.6 288.9L1471.7 295.9L1475.2 302.8L1477.3 304.4L1484.2 310.7L1491.2 317.6L1498.1 323.9L1505.0 328.7L1513.4 331.5L1520.3 333.6L1526.5 335.7L1532.8 339.8L1538.3 344.0L1542.5 346.8L1546.7 348.8M1435.7 357.9L1445.4 357.2L1455.1 356.5L1464.8 354.4L1474.5 350.9L1484.2 347.5L1493.9 344.0L1502.3 341.2L1509.2 337.7L1512.7 332.9L1513.4 331.5M1455.1 357.2L1459.2 360.6L1466.2 363.4L1475.9 366.2L1484.2 367.6L1491.2 368.3L1499.5 367.6L1505.0 366.9" fill="none" stroke="#1f4255" stroke-width="1.55" stroke-linejoin="round" stroke-linecap="round"/>
<path d="M1005.3 211.2L1011.5 211.2L1017.0 210.5L1022.6 208.4L1028.2 205.0L1033.7 201.5L1037.9 197.3L1042.0 193.2L1046.2 187.6L1050.3 183.5L1055.2 179.3L1059.4 173.8L1062.1 166.8L1062.8 159.9L1061.2 154.3L1056.6 151.3L1055.2 146.4L1057.3 140.9L1058.0 133.9L1056.6 129.1L1054.8 125.6L1055.2 122.8L1059.4 122.1L1063.5 122.6L1062.8 125.6L1059.4 128.4L1061.5 132.6L1067.0 135.0L1073.9 135.6L1081.6 135.6L1083.0 132.6L1084.3 128.4L1087.1 126.6L1091.3 127.7L1099.6 129.1L1105.2 130.1L1107.2 133.9L1112.1 135.6L1117.6 136.7L1119.7 140.9L1122.5 141.6L1130.8 139.5L1137.8 137.0L1144.7 136.4L1146.1 140.9L1148.9 142.0L1144.0 144.3L1140.5 147.1L1141.2 149.9L1147.5 150.3L1152.3 151.3L1153.0 154.8L1155.8 158.9L1159.3 163.8L1161.3 168.6L1161.3 172.8L1166.9 173.5L1178.0 173.5L1186.8 172.8L1193.8 168.6L1202.1 165.8L1212.5 164.7L1211.1 168.6L1210.4 173.5L1217.3 174.2L1221.5 168.6L1228.4 163.1L1238.2 158.9L1246.5 158.9L1243.7 155.4L1240.9 151.3L1245.1 146.4L1249.2 140.9L1252.7 141.6L1263.1 140.9L1272.8 138.1L1277.0 133.9L1279.8 127.0L1283.9 121.5L1288.1 118.0L1293.7 119.4L1304.8 119.4L1317.2 118.7L1327.6 118.7L1330.4 115.2L1339.4 112.4L1350.5 109.7L1358.9 107.6L1363.0 109.0L1371.3 109.7L1379.7 111.0L1388.0 111.7L1393.3 110.3L1397.5 111.7L1396.8 104.8L1392.7 95.1L1389.2 85.4L1396.8 83.3L1402.4 81.2L1404.4 75.7L1406.5 72.9L1407.2 77.0L1405.1 84.0L1408.6 89.5L1417.6 86.8L1423.2 85.4L1428.7 87.5L1437.0 85.4L1441.9 85.4L1444.0 91.6L1448.2 97.9L1453.0 102.7L1455.8 104.1L1462.0 102.0L1469.0 102.0M1385.7 261.2L1382.9 261.9L1382.5 263.9L1374.1 265.3L1367.2 268.1L1360.2 270.9L1351.9 273.6L1345.0 276.4L1340.8 279.2L1336.7 282.7L1329.7 284.8L1321.4 288.9L1315.8 293.1L1310.3 293.8L1306.1 290.3L1300.6 290.3L1295.0 287.5L1289.5 284.8L1285.3 286.1L1278.4 290.3L1272.8 291.0L1267.3 288.9L1263.1 284.8L1256.2 287.5L1249.2 293.1L1243.7 296.5L1239.5 295.9L1232.6 291.7L1224.3 293.1L1216.0 294.5L1207.6 296.5L1200.0 298.6L1199.3 299.6L1197.9 305.1L1192.4 307.2L1186.8 310.7L1185.4 316.2L1183.3 323.2L1180.6 330.1L1182.0 335.7L1179.9 341.2L1175.7 348.1L1171.5 355.8L1164.1 354.4L1157.2 353.7L1150.2 354.4L1141.9 355.8L1135.0 353.0L1129.4 351.6L1122.5 348.8L1118.3 348.1L1114.2 348.8L1113.5 346.8L1117.0 344.0L1115.6 339.8L1112.8 335.7L1108.6 332.9L1105.2 329.4L1100.3 327.3L1094.8 328.0L1087.8 330.1L1083.7 330.8L1078.1 334.3L1073.9 332.2L1067.0 330.8L1062.8 330.1L1062.1 324.6L1064.2 317.6L1065.6 312.1L1064.2 307.2L1060.1 304.4L1055.9 301.7L1053.1 298.2L1050.3 293.3L1046.9 289.9L1043.4 291.3L1038.6 293.3L1035.8 298.2L1033.0 302.4L1030.9 305.8L1029.5 310.7L1025.4 309.3L1019.1 310.0L1017.0 314.9L1015.7 321.8L1014.3 327.3L1011.5 326.6L1004.6 329.4L997.6 330.8M956.0 135.0L958.8 135.3L964.3 133.9L965.0 138.1L967.8 143.6L971.3 149.2L976.8 150.6L980.3 151.3L981.7 156.1L985.8 158.9L989.3 161.7L990.0 167.2L987.9 170.3L985.8 172.4L987.2 179.3L990.0 185.5L993.5 183.5L999.0 182.8L1004.6 180.7L1010.1 178.6L1015.7 179.3L1015.0 186.2L1012.2 191.8L1010.8 200.1L1008.0 205.7L1005.3 207.7L1005.3 211.2M956.0 313.2L958.8 313.5L965.7 314.2L969.9 316.9L974.0 320.4L978.2 324.6L981.7 328.7L985.8 330.1L990.0 332.9L996.2 332.2L997.6 330.8M1062.1 324.6L1061.5 331.5L1060.1 338.4L1055.9 346.8L1053.1 350.9L1055.2 356.5L1051.7 362.0L1049.0 367.6L1051.7 371.7L1048.3 375.9L1046.2 381.4L1047.6 387.0L1050.3 391.2L1055.9 391.9L1060.1 393.9L1064.2 398.1L1066.3 403.6L1065.6 410.6L1064.2 421.0M979.6 421.0L985.1 414.8L987.9 409.2L989.3 402.3L996.2 400.2L1004.6 398.1L1011.5 396.0L1016.4 393.9L1018.4 398.1L1019.8 405.0L1022.6 409.2L1026.8 413.4L1029.5 417.5L1033.7 418.2L1039.2 416.8L1046.2 418.9L1053.1 421.0M1469.0 102.0L1471.7 93.7L1475.9 90.2L1487.0 88.2L1496.7 88.2L1502.3 90.2L1506.4 92.3L1508.5 90.9L1505.0 95.1L1509.2 99.2L1513.4 104.8L1516.8 107.6L1512.7 109.7L1509.9 113.1L1511.3 120.1L1514.8 125.6L1521.0 127.0L1525.2 131.2L1532.8 135.3L1539.7 140.9L1547.4 145.0L1548.7 143.6L1552.9 147.1L1557.8 142.3L1561.2 140.2L1561.2 132.6L1559.8 125.6L1561.2 115.9L1563.3 111.7L1566.1 106.2L1569.6 99.2L1568.2 90.9L1566.1 82.6L1560.5 76.4L1553.6 74.3L1548.0 76.4L1541.1 77.0L1535.6 76.4L1532.1 72.9L1533.5 67.3L1537.6 61.8L1537.0 56.9L1542.5 50.7L1546.7 43.8L1550.1 38.2L1545.3 29.9L1539.7 18.8M1382.9 261.9L1391.3 259.8L1398.2 259.1L1403.8 261.9L1407.2 265.3L1402.4 270.9L1396.8 276.4L1391.3 278.8L1386.4 282.9L1386.4 288.5L1389.2 294.0L1392.7 299.6L1393.3 305.1L1391.3 309.3L1396.8 312.1L1402.4 317.6L1407.9 317.6L1413.5 316.9L1417.6 321.8L1420.4 328.7L1421.1 335.7L1419.0 341.2L1421.8 345.4L1428.7 348.1L1432.9 350.9L1435.0 357.9L1437.0 363.4L1441.2 367.6L1446.8 371.7L1453.7 374.5L1459.2 375.9L1466.2 378.7L1473.1 382.1L1477.3 382.1L1482.8 380.8L1489.8 380.1L1495.3 379.4L1499.5 379.4L1505.0 382.8L1507.8 385.6L1514.8 383.5L1520.3 384.9L1527.2 387.0L1530.0 392.6L1537.0 393.9L1545.3 393.2L1553.6 393.9L1561.9 394.6L1570.2 395.3L1580.0 394.6" fill="none" stroke="#3e4042" stroke-width="2.7" stroke-linejoin="round" stroke-linecap="round"/>
<circle cx="1275.6" cy="236.2" r="5.3" fill="#b8121f"/>
<rect x="1239.05" y="206.25" width="10.5" height="10.2" fill="#fff" stroke="#000" stroke-width="1.7"/>
<text x="1248.0" y="208.9" font-family="'DejaVu Sans Condensed','Liberation Sans',sans-serif" font-size="24.4" letter-spacing="-0.3" fill="#000" stroke="#000" stroke-width="0.25">IBK</text>
</g>
<rect x="958.55" y="18.9" width="620.65" height="401.55" fill="none" stroke="#1a1a1a" stroke-width="1.6"/>
</svg>
<svg width="1600" height="1153" viewBox="0 0 1600 1153">
<rect x="50" y="459.7" width="1513" height="606.2" fill="#fafafa"/>
<path d="M216.33 550.60V1010.80M304.27 550.60V1010.80M392.20 550.60V1010.80M480.13 550.60V1010.80M568.07 550.60V1010.80M656.00 550.60V1010.80M743.93 550.60V1010.80M831.87 550.60V1010.80M919.80 550.60V1010.80M1007.73 550.60V1010.80M1095.67 550.60V1010.80M1183.60 550.60V1010.80M1271.53 550.60V1010.80M1359.47 550.60V1010.80M128.40 918.76H1447.40M128.40 826.72H1447.40M128.40 734.68H1447.40M128.40 642.64H1447.40" fill="none" stroke="#a4a4a4" stroke-width="1.05" stroke-dasharray="1.25 3.79"/>
<path d="M216.33 1010.80v-6.5M216.33 550.60v6.5M304.27 1010.80v-6.5M304.27 550.60v6.5M392.20 1010.80v-6.5M392.20 550.60v6.5M480.13 1010.80v-6.5M480.13 550.60v6.5M568.07 1010.80v-6.5M568.07 550.60v6.5M656.00 1010.80v-6.5M656.00 550.60v6.5M743.93 1010.80v-6.5M743.93 550.60v6.5M831.87 1010.80v-6.5M831.87 550.60v6.5M919.80 1010.80v-6.5M919.80 550.60v6.5M1007.73 1010.80v-6.5M1007.73 550.60v6.5M1095.67 1010.80v-6.5M1095.67 550.60v6.5M1183.60 1010.80v-6.5M1183.60 550.60v6.5M1271.53 1010.80v-6.5M1271.53 550.60v6.5M1359.47 1010.80v-6.5M1359.47 550.60v6.5M128.40 918.76h6.5M1447.40 918.76h-6.5M128.40 826.72h6.5M1447.40 826.72h-6.5M128.40 734.68h6.5M1447.40 734.68h-6.5M128.40 642.64h6.5M1447.40 642.64h-6.5" fill="none" stroke="#000" stroke-width="1.1"/>
<rect x="846.52" y="1007.20" width="87.93" height="3.60" fill="#a0ffa0" stroke="#00d800" stroke-width="1.2"/>
<rect x="934.46" y="1006.40" width="87.93" height="4.40" fill="#a0ffa0" stroke="#00d800" stroke-width="1.2"/>
<rect x="128.40" y="993.30" width="14.66" height="17.50" fill="#a3a3fb" stroke="#1c1cf0" stroke-width="1.3"/>
<rect x="143.06" y="1005.40" width="87.93" height="5.40" fill="#a3a3fb" stroke="#1c1cf0" stroke-width="1.3"/>
<rect x="230.99" y="1009.60" width="87.93" height="1.20" fill="#a3a3fb" stroke="#1c1cf0" stroke-width="1.3"/>
<rect x="846.52" y="1008.30" width="87.93" height="2.50" fill="#a3a3fb" stroke="#1c1cf0" stroke-width="1.3"/>
<rect x="934.46" y="1007.60" width="87.93" height="3.20" fill="#a3a3fb" stroke="#1c1cf0" stroke-width="1.3"/>
<path d="M128.2 875.2 L150.0 872.2 L172.5 867.8 L195.0 860.2 L210.0 855.0 L222.0 852.5 L234.0 852.0 L247.5 855.5 L270.0 866.2 L285.0 872.7 L304.5 879.3 L322.5 883.2 L340.0 885.0 L340.5 885.0 L355.0 884.9 L370.0 883.5 L392.5 879.8 L407.5 878.9 L421.0 880.5 L436.0 884.5 L452.5 891.3 L467.5 897.8 L480.5 902.7 L490.0 905.7 L502.0 909.0 L515.5 911.7 L527.5 913.0 L542.5 914.1 L557.5 915.3 L568.5 916.4 L582.5 918.0 L597.5 921.8 L612.5 926.2 L627.5 932.7 L642.5 940.5 L655.5 947.2 L672.5 955.5 L687.5 960.0 L701.0 961.2 L714.5 960.0 L728.0 955.8 L743.8 950.2 L755.0 945.8 L770.0 942.0 L795.0 939.0 L810.0 937.5 L831.5 934.2 L847.5 930.0 L862.5 924.8 L876.0 920.7 L888.0 917.7 L903.0 916.0 L919.5 915.0 L930.0 914.2 L942.0 912.0 L955.5 908.2 L967.5 905.0 L981.0 903.6 L994.5 905.7 L1008.0 912.8 L1021.0 924.8 L1034.5 942.8 L1048.0 961.5 L1061.2 977.2 L1074.2 985.0 L1087.8 984.3 L1101.2 976.8 L1114.8 964.8 L1127.5 951.8 L1141.0 941.0 L1154.5 935.4 L1167.7 938.4 L1181.5 946.5 L1194.2 954.8 L1207.8 960.3 L1221.2 962.5 L1233.5 963.0 L1247.0 963.6 L1260.5 965.2 L1273.7 969.0 L1286.8 975.8 L1300.2 985.2 L1314.2 993.3 L1327.5 994.5 L1340.8 984.8 L1354.2 964.5 L1367.8 936.0 L1381.2 906.0 L1394.0 879.8 L1407.5 858.8 L1420.7 849.8 L1433.8 855.8 L1447.2 871.5" fill="none" stroke="#000" stroke-width="1.35" stroke-linejoin="round"/>
<rect x="128.4" y="550.6" width="1319.00" height="460.20" fill="none" stroke="#000" stroke-width="1.7"/>
<g font-size="17.9" fill="#000">
<text x="118" y="1016.6" text-anchor="end">0</text><text x="1463.2" y="1016.6">0</text>
<text x="118" y="924.6" text-anchor="end">10</text><text x="1463.2" y="924.6">20</text>
<text x="118" y="832.5" text-anchor="end">20</text><text x="1463.2" y="832.5">40</text>
<text x="118" y="740.5" text-anchor="end">30</text><text x="1463.2" y="740.5">60</text>
<text x="118" y="648.4" text-anchor="end">40</text><text x="1463.2" y="648.4">80</text>
<text x="118" y="556.4" text-anchor="end">50</text><text x="1463.2" y="556.4">100</text>
<text x="128.4" y="1034.9" text-anchor="middle">00h</text><text x="128.5" y="1052.5" text-anchor="middle" letter-spacing="0.23">Do,27.11.</text>
<text x="216.3" y="1034.9" text-anchor="middle">06h</text><text x="216.4" y="1052.5" text-anchor="middle" letter-spacing="0.23">Do,27.11.</text>
<text x="304.3" y="1034.9" text-anchor="middle">12h</text><text x="304.4" y="1052.5" text-anchor="middle" letter-spacing="0.23">Do,27.11.</text>
<text x="392.2" y="1034.9" text-anchor="middle">18h</text><text x="392.3" y="1052.5" text-anchor="middle" letter-spacing="0.23">Do,27.11.</text>
<text x="480.1" y="1034.9" text-anchor="middle">00h</text><text x="480.2" y="1052.5" text-anchor="middle" letter-spacing="0.23">Fr,28.11.</text>
<text x="568.1" y="1034.9" text-anchor="middle">06h</text><text x="568.2" y="1052.5" text-anchor="middle" letter-spacing="0.23">Fr,28.11.</text>
<text x="656.0" y="1034.9" text-anchor="middle">12h</text><text x="656.1" y="1052.5" text-anchor="middle" letter-spacing="0.23">Fr,28.11.</text>
<text x="743.9" y="1034.9" text-anchor="middle">18h</text><text x="744.0" y="1052.5" text-anchor="middle" letter-spacing="0.23">Fr,28.11.</text>
<text x="831.9" y="1034.9" text-anchor="middle">00h</text><text x="832.0" y="1052.5" text-anchor="middle" letter-spacing="0.23">Sa,29.11.</text>
<text x="919.8" y="1034.9" text-anchor="middle">06h</text><text x="919.9" y="1052.5" text-anchor="middle" letter-spacing="0.23">Sa,29.11.</text>
<text x="1007.7" y="1034.9" text-anchor="middle">12h</text><text x="1007.8" y="1052.5" text-anchor="middle" letter-spacing="0.23">Sa,29.11.</text>
<text x="1095.7" y="1034.9" text-anchor="middle">18h</text><text x="1095.8" y="1052.5" text-anchor="middle" letter-spacing="0.23">Sa,29.11.</text>
<text x="1183.6" y="1034.9" text-anchor="middle">00h</text><text x="1183.7" y="1052.5" text-anchor="middle" letter-spacing="0.23">So,30.11.</text>
<text x="1271.5" y="1034.9" text-anchor="middle">06h</text><text x="1271.6" y="1052.5" text-anchor="middle" letter-spacing="0.23">So,30.11.</text>
<text x="1359.5" y="1034.9" text-anchor="middle">12h</text><text x="1359.6" y="1052.5" text-anchor="middle" letter-spacing="0.23">So,30.11.</text>
<text x="1447.4" y="1034.9" text-anchor="middle">18h</text><text x="1447.5" y="1052.5" text-anchor="middle" letter-spacing="0.23">So,30.11.</text>
<text x="128.2" y="519.2">Schneefallgrenze</text>
<text x="788" y="493.4" text-anchor="middle" font-size="18.15">LWD−Region 15 Tuxer Alpen West 2199m</text>
<text x="1365.6" y="571.8" text-anchor="end">Niederschlag</text>
<text x="1365.6" y="589.8" text-anchor="end">Neuschnee</text>
<text x="1365.6" y="607.8" text-anchor="end">mittlerer Wind in 3000 m</text>
<text transform="translate(74.5 781) rotate(-90)" text-anchor="middle">Neuschnee in cm/Niederschlag in mm</text>
<text transform="translate(1527.5 781) rotate(-90)" text-anchor="middle">mittlerer Wind in km/h</text>
</g>
<g font-size="15.9" fill="#000">
<text x="128.4" y="537.2">300m</text><text x="216.3" y="537.2">0m</text><text x="304.3" y="537.2">600m</text><text x="392.2" y="537.2">0m</text><text x="480.1" y="537.2">0m</text><text x="568.1" y="537.2">0m</text><text x="656.0" y="537.2">600m</text><text x="743.9" y="537.2">0m</text><text x="831.9" y="537.2">0m</text><text x="919.8" y="537.2">0m</text><text x="1007.7" y="537.2">1100m</text><text x="1095.7" y="537.2">300m</text><text x="1183.6" y="537.2">0m</text><text x="1271.5" y="537.2">0m</text><text x="1359.5" y="537.2">1300m</text><text x="1447.4" y="537.2">500m</text>
</g>
<rect x="1376.3" y="561" width="49.8" height="9.2" fill="#a0ffa0" stroke="#22dd22" stroke-width="1"/>
<rect x="1376.3" y="579.2" width="49.8" height="9.2" fill="#a3a3fb" stroke="#1c1cf0" stroke-width="1.2"/>
<path d="M1376.3 601.8H1426.1" stroke="#000" stroke-width="1.3"/>
</svg>
<svg width="1600" height="1153" viewBox="0 0 1600 1153">
<g transform="translate(40 452) scale(0.0694)" fill="none" stroke="#27454e" stroke-width="21" stroke-linecap="round">
<circle cx="345" cy="298" r="19"/>
<path d="M338 222C385 222 425 260 425 305C425 350 385 385 340 378C322 375 308 365 297 350"/>
<path d="M400 160C455 195 480 260 465 325C450 390 390 445 320 470"/>
<path d="M465 130C525 165 550 225 535 285C520 340 470 380 452 440C435 510 455 575 490 618"/>
<path d="M632 132C660 170 662 220 645 265C630 300 600 340 620 372C640 400 700 382 740 392C765 398 785 410 800 422"/>
<path d="M745 207C705 240 700 310 740 350C760 368 780 376 802 381"/>
<path d="M776 250C758 275 765 310 800 330"/>
<path d="M578 620C565 575 585 520 640 497C685 478 735 482 768 498"/>
<path d="M665 592C660 560 690 530 740 540"/>
<path d="M540 122C585 150 600 200 592 250C585 300 520 340 512 395C505 440 540 468 590 465C640 460 680 430 730 437C755 440 775 450 788 463" stroke="#c3d64f"/>
</g>
<text x="78.5" y="510" text-anchor="middle" font-size="10.7" font-weight="bold" fill="#1f3f47">GeoSphere</text>
<text x="78.7" y="522.8" text-anchor="middle" font-size="11.2" letter-spacing="0.25" fill="#4a6b75">Austria</text>
</svg>
</body>
</html>
